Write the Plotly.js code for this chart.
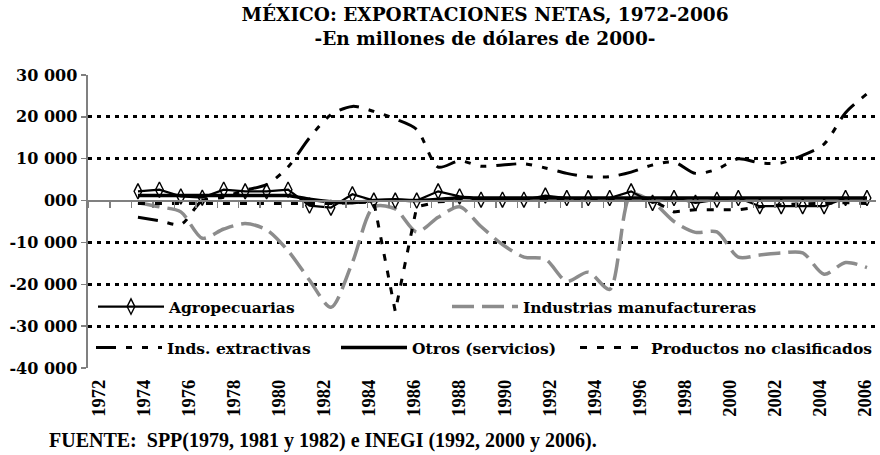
<!DOCTYPE html>
<html>
<head>
<meta charset="utf-8">
<script src="https://cdn.plot.ly/plotly-3.0.1.min.js"></script>
<style>html,body{margin:0;padding:0;background:#fff;}#chart{width:880px;height:455px;}</style>
</head>
<body>
<div id="chart"></div>
<script>
// ---- Data (millones de dólares de 2000) ----
const years = [1972,1973,1974,1975,1976,1977,1978,1979,1980,1981,1982,1983,1984,1985,1986,1987,1988,1989,1990,1991,1992,1993,1994,1995,1996,1997,1998,1999,2000,2001,2002,2003,2004,2005,2006];
const agropecuarias = [2200,2600,1000,700,2600,2200,2200,2600,-1200,-1700,1500,0,0,0,2200,1000,200,200,200,1200,600,600,600,2200,-550,600,-550,200,600,-1350,-1350,-1350,-1350,600,600];
const manufactureras = [-500,-1500,-2700,-9000,-6800,-5500,-7000,-12000,-19000,-25500,-14800,-1500,-2000,-7500,-4000,-1500,-6200,-10500,-13500,-14000,-19300,-17100,-21200,1500,-300,-5000,-7600,-7500,-13500,-13000,-12500,-12500,-17600,-14800,-16000];
const extractivas = [-4000,-4800,-5700,0,800,2500,3800,8000,15000,20500,22500,21300,19500,17000,8000,9500,8200,8500,8800,7800,6500,5700,5700,6800,8500,9200,6500,7500,10000,9000,9000,10800,13500,21000,25500];
const otros = [1200,1200,1200,1200,1200,1200,1200,1200,300,-300,-500,0,200,0,300,700,600,600,600,600,600,600,600,600,600,600,600,600,600,600,600,600,600,600,600];
const productos = [-700,-700,-700,-700,-700,-700,-700,-700,-700,-700,-500,-300,-26500,-1500,-300,0,0,0,0,0,0,0,0,0,0,-2700,-2200,-2200,-2200,-1500,-1000,-800,-700,-500,-700];

const labelYears = [1972,1974,1976,1978,1980,1982,1984,1986,1988,1990,1992,1994,1996,1998,2000,2002,2004,2006];
const yTickVals = [-40000,-30000,-20000,-10000,0,10000,20000,30000];
const yTickText = ["-40 000","-30 000","-20 000","-10 000","000","10 000","20 000","30 000"];
const gridVals = [-40000,-30000,-20000,-10000,10000,20000,30000];

const WIDE = "DejaVu Serif, serif";
const TIMES = "Liberation Serif, Times New Roman, serif";

const traces = [
  {x: [], y: [], xaxis: 'x', yaxis: 'y', showlegend: false, hoverinfo: 'skip'},
  {name: 'Industrias manufactureras', x: years, y: manufactureras, xaxis: 'x2', yaxis: 'y', mode: 'lines',
   line: {color: '#8c8c8c', width: 3.5, dash: '22px,8px', shape: 'spline', smoothing: 0.8}, legend: 'legend2'},
  {name: 'Inds. extractivas', x: years, y: extractivas, xaxis: 'x2', yaxis: 'y', mode: 'lines',
   line: {color: '#000', width: 3, dash: '20px,10px,6px,10px,6px,10px', shape: 'spline', smoothing: 0.8}, legend: 'legend3'},
  {name: 'Productos no clasificados', x: years, y: productos, xaxis: 'x2', yaxis: 'y', mode: 'lines',
   line: {color: '#000', width: 3, dash: '7px,10px'}, legend: 'legend5'},
  {name: 'Otros (servicios)', x: years, y: otros, xaxis: 'x2', yaxis: 'y', mode: 'lines',
   line: {color: '#000', width: 3.5, shape: 'spline', smoothing: 0.6}, legend: 'legend4'},
  {name: 'Agropecuarias', x: years, y: agropecuarias, xaxis: 'x2', yaxis: 'y', mode: 'lines+markers',
   line: {color: '#000', width: 2.2}, marker: {symbol: 'diamond-tall-open', size: 11, color: '#000', line: {width: 1.4, color: '#000'}}, legend: 'legend'}
];

function leg(xpx, ypx) {
  return {xref: 'container', yref: 'container', x: xpx / 880, y: 1 - ypx / 455, xanchor: 'left', yanchor: 'middle',
    orientation: 'h', itemwidth: 66, bgcolor: 'rgba(0,0,0,0)', borderwidth: 0,
    font: {family: WIDE, size: 15.5, color: '#000', weight: 'bold'}};
}

const layout = {
  width: 880, height: 455,
  margin: {l: 88, r: 4, t: 75, b: 87, autoexpand: false},
  paper_bgcolor: '#fff', plot_bgcolor: '#fff',
  title: {text: 'MÉXICO: EXPORTACIONES NETAS, 1972-2006<br>-En millones de dólares de 2000-',
    xref: 'container', yref: 'container', x: 485 / 880, xanchor: 'center', y: 1 - 20.5 / 455, yanchor: 'middle',
    font: {family: WIDE, size: 18.5, color: '#000', weight: 'bold'}},
  xaxis: {type: 'linear', range: [1971.5, 2006.5], tickmode: 'array', tickvals: labelYears, ticktext: labelYears.map(String),
    tickangle: -90, showgrid: false, zeroline: false, showline: false, ticks: '', ticklabelstandoff: 7,
    tickfont: {family: TIMES, size: 18.5, color: '#000', weight: 'bold'}, fixedrange: true},
  xaxis2: {type: 'linear', overlaying: 'x', anchor: 'free', position: 40 / 70, side: 'bottom',
    range: [1969.67, 2006.42], showticklabels: false, showgrid: false, zeroline: false,
    showline: true, linecolor: '#808080', linewidth: 2.5,
    ticks: 'outside', tickmode: 'linear', tick0: 1970.7, dtick: 1, ticklen: 6, tickwidth: 1.5, tickcolor: '#808080'},
  yaxis: {range: [-40000, 30000], tickmode: 'array', tickvals: yTickVals, ticktext: yTickText,
    showgrid: false, zeroline: false, showline: true, linecolor: '#808080', linewidth: 2.5,
    ticks: 'outside', ticklen: 5, tickwidth: 1.5, tickcolor: '#808080',
    tickfont: {family: WIDE, size: 16, color: '#000', weight: 'bold'},
    minor: {tickmode: 'array', tickvals: gridVals, showgrid: true, gridcolor: '#000', gridwidth: 3, griddash: '4px,5px', ticks: ''}},
  legend: leg(93, 307),
  legend2: leg(447, 307),
  legend3: leg(91, 348),
  legend4: leg(336, 348),
  legend5: leg(575, 348),
  annotations: [{text: 'FUENTE:  SPP(1979, 1981 y 1982) e INEGI (1992, 2000 y 2006).', xref: 'paper', yref: 'paper',
    x: (47 - 88) / 788, y: (368 - 440) / 293, xanchor: 'left', yanchor: 'middle', showarrow: false,
    font: {family: TIMES, size: 20, color: '#000', weight: 'bold'}}],
  showlegend: true
};

Plotly.newPlot('chart', traces, layout, {staticPlot: true, displayModeBar: false});
</script>
</body>
</html>
